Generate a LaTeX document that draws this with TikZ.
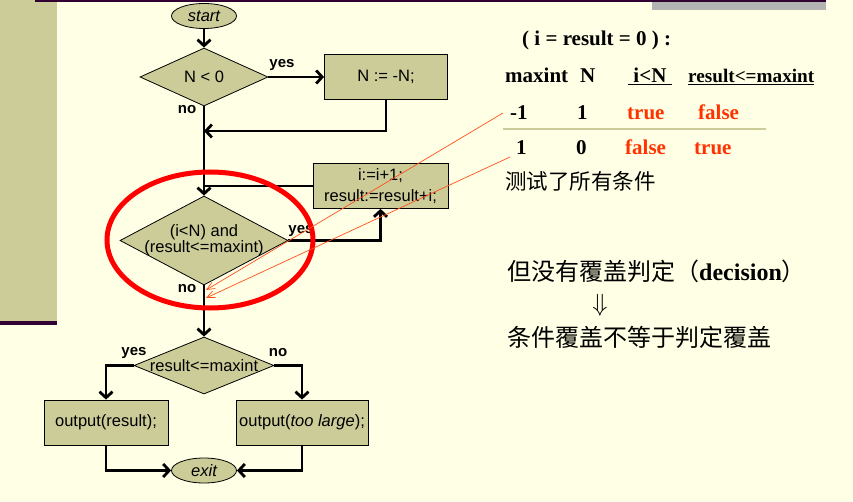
\documentclass[tikz,border=0pt]{standalone}
\usepackage{fontspec}
\setmainfont{Liberation Serif}
\newfontfamily\flowfont{Liberation Sans}
\newfontfamily\cjk{Noto Sans CJK SC}
\usepackage{xcolor}
\definecolor{paper}{RGB}{255, 255, 229}
\definecolor{olive}{RGB}{204, 204, 153}
\definecolor{plum}{RGB}{51, 0, 51}
\definecolor{bargray}{RGB}{179, 179, 179}
\definecolor{hot}{RGB}{255, 51, 0}
\definecolor{pointer}{RGB}{255, 80, 30}
\usetikzlibrary{shapes.geometric,arrows.meta}

\tikzset{
  box/.style={draw,line width=0.8pt,fill=olive,inner sep=0pt,
    font=\flowfont\fontsize{16.5}{21}\selectfont,align=center},
  cond/.style={draw,line width=0.8pt,fill=olive,diamond,inner sep=0pt},
  condtext/.style={inner sep=0pt,align=center,
    font=\flowfont\fontsize{16.5}{16}\selectfont},
  term/.style={box,ellipse,font=\flowfont\itshape\fontsize{16.5}{20}\selectfont},
  answer/.style={inner sep=0pt,font=\flowfont\bfseries\fontsize{15}{18}\selectfont},
  flow/.style={line width=2.8pt,
    -{Straight Barb[length=6pt,width=13pt]}},
  plain/.style={line width=2.8pt},
  ring/.style={draw=red,line width=5pt},
  hint/.style={draw=pointer,line width=0.7pt,
    -{Straight Barb[length=8pt,width=7pt]}},
  cell/.style={inner sep=0pt,anchor=base west,
    font=\bfseries\fontsize{21}{25}\selectfont},
  hotcell/.style={cell,text=hot},
  note/.style={inner sep=0pt,anchor=base west}
}

\begin{document}
\begin{tikzpicture}[x=1pt,y=-1pt]
\useasboundingbox (0,0) rectangle (853,502);
\fill [paper] (0,0) rectangle (853,502);
\fill [olive] (0,0) rectangle (57,322);
\fill [plum] (0,321) rectangle (57,325);
\fill [plum] (35,0) rectangle (826,2.5);
\fill [bargray] (652,2.5) rectangle (826,10.5);

% flow chart
\node [term,minimum width=65,minimum height=25] (start) at (204,16) {start};
\node [cond,minimum width=128,minimum height=58,
  label={[condtext]center:N < 0}] (ncheck) at (204,77) {};
\node [box,minimum width=123,minimum height=45] (negate) at (386,77) {N := -N;};
\node [cond,minimum width=168,minimum height=89,
  label={[condtext]center:{(i<N) and\\(result<=maxint)}}] (loopcond) at (204,240.5) {};
\node [box,minimum width=135,minimum height=45] (incr) at (380.5,186)
  {i:=i+1;\\result:=result+i;};
\node [cond,minimum width=140,minimum height=57,
  label={[condtext]center:result<=maxint}] (rescheck) at (204,365.5) {};
\node [box,minimum width=124,minimum height=45] (outres) at (106,422.5)
  {output(result);};
\node [box,minimum width=132,minimum height=45] (outbig) at (302,422.5)
  {output(\textit{too large});};
\node [term,minimum width=65,minimum height=25] (exit) at (204,470.5) {exit};

\coordinate (merge) at (204,131);
\coordinate (loopjoin) at (204,186);

\draw [flow] (start) -- (ncheck);
\draw [flow] (ncheck) -- (negate);
\draw [flow] (negate.south) |- (merge);
\draw [flow] (ncheck) -- (loopcond);
\draw [plain] (incr.west) -- (loopjoin);
\draw [flow] (loopcond.east) -| (incr.south);
\draw [flow] (loopcond) -- (rescheck);
\draw [flow] (rescheck.west) -| (outres.north);
\draw [flow] (rescheck.east) -| (outbig.north);
\draw [flow] (outres.south) |- (exit.west);
\draw [flow] (outbig.south) |- (exit.east);

\node [answer] (yes1) at (282,65) {yes};
\node [answer] (no1) at (187,110) {no};
\node [answer] (yes2) at (301,231) {yes};
\node [answer] (no2) at (187,289) {no};
\node [answer] (yes3) at (134,353) {yes};
\node [answer] (no3) at (278,353) {no};

\draw [ring] (210,240) ellipse [x radius=103,y radius=68];

% table of the two tests
\node [cell] (init) at (522,46) {( i = result = 0 ) :};
\node [cell] (hmax) at (505,83) {maxint};
\node [cell] (hn) at (580,83) {N};
\node [cell] (hlt) at (628,83) {\underline{\ i<N\ }};
\node [cell,font=\bfseries\fontsize{19.2}{25}\selectfont] (hle) at (688,83)
  {\underline{result<=maxint}};

\node [cell] (amax) at (510,120) {-1};
\node [cell] (an) at (577,120) {1};
\node [hotcell] (alt) at (627,120) {true};
\node [hotcell] (ale) at (698,120) {false};

\draw [olive,line width=2pt] (503,129) -- (766,129);

\node [cell] (bmax) at (516,155) {1};
\node [cell] (bn) at (576,155) {0};
\node [hotcell] (blt) at (625,155) {false};
\node [hotcell] (ble) at (694,155) {true};

\node [note,font=\cjk\fontsize{21.5}{25}\selectfont] (allcond) at (505,190)
  {测试了所有条件};
\node [note,font=\fontsize{24}{28}\selectfont] (nodec) at (507,281)
  {{\cjk 但没有覆盖判定（}\textbf{decision}{\cjk ）}};
\node [font=\fontsize{30}{34}\selectfont,inner sep=0pt] (hence) at (600,305)
  {$\Downarrow$};
\node [note,font=\cjk\fontsize{24}{28}\selectfont] (unequal) at (507,346)
  {条件覆盖不等于判定覆盖};

% pointers from the rows
\coordinate (taila) at (503,113);
\coordinate (tipa) at (206,290);
\coordinate (tailb) at (510,157);
\coordinate (tipb) at (206,298);
\draw [hint] (taila) -- (tipa);
\draw [hint] (tailb) -- (tipb);
\end{tikzpicture}
\end{document}
